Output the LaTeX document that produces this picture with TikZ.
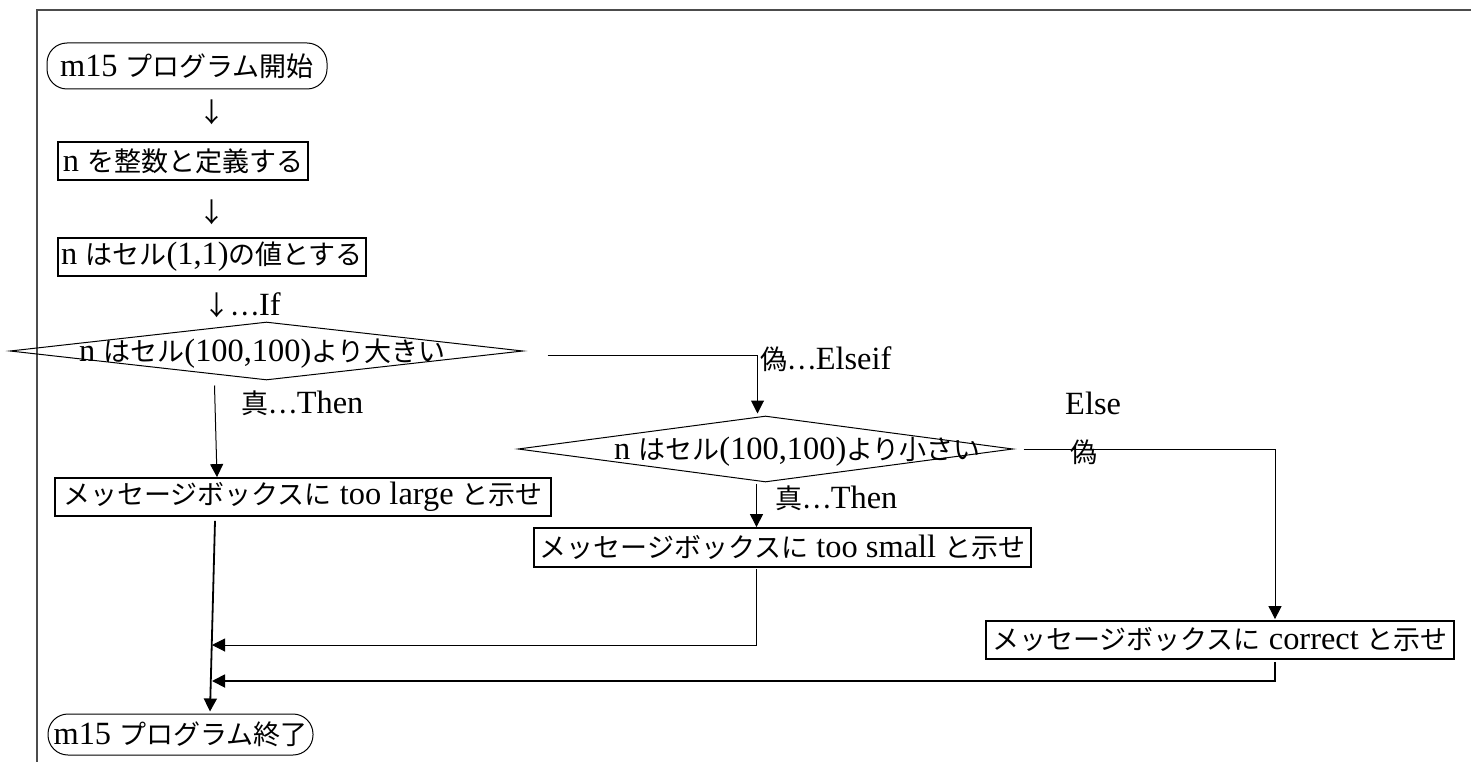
\documentclass[tikz,border=0pt]{standalone}
\usepackage{fontspec}
\setmainfont{Liberation Serif}[Scale=1.2]
\newfontfamily\jpfont{Noto Sans CJK JP}
\usetikzlibrary{arrows.meta, shapes.geometric, calc}
\newcommand{\ja}[1]{{\jpfont #1}}

\begin{document}
\begin{tikzpicture}[
  x=1pt, y=-1pt,
  >={Triangle[length=13pt, width=13pt]},
  every node/.style={font=\fontsize{27}{32}\selectfont, inner sep=0pt},
  procbox/.style={draw, line width=1.8pt, minimum height=38pt},
  terminal/.style={draw, line width=1pt, rounded corners=20pt, minimum height=46pt},
  decision/.style={draw, diamond, line width=1pt, inner sep=0pt},
  arr/.style={->, line width=1pt},
  thickarr/.style={->, line width=1.8pt},
  frame/.style={draw=black!70, line width=1.5pt},
]
\useasboundingbox (0,0) rectangle (1471,762);

% frame
\draw[frame] (37,762) -- (37,10) -- (1471,10);

% main column
\node[terminal, minimum width=280pt] (start) at (187,66) {m15 \ja{プログラム開始}};
\node (down1) at (212,112) {\ja{↓}};
\node[procbox, minimum width=250pt] (define) at (183,161) {n \ja{を整数と定義する}};
\node (down2) at (212,212) {\ja{↓}};
\node[procbox, minimum width=308pt] (cell) at (212,257) {n \ja{はセル}(1,1)\ja{の値とする}};
\node (iflabel) at (242,305) {\ja{↓…}If};

% decisions
\node[decision, minimum width=513pt, minimum height=58pt] (big) at (266.5,351) {};
\node (bigtext) at ($(big.center)+(-4,3)$) {n \ja{はセル}(100,100)\ja{より大きい}};
\node[decision, minimum width=495pt, minimum height=66pt] (small) at (765.5,449) {};
\node (smalltext) at ($(small.center)+(32,3)$) {n \ja{はセル}(100,100)\ja{より小さい}};

% messages
\node[procbox, minimum width=496pt] (large) at (303,497) {\ja{メッセージボックスに} too large \ja{と示せ}};
\node[procbox, minimum width=497pt, minimum height=39pt] (tiny) at (782.5,547.5) {\ja{メッセージボックスに} too small \ja{と示せ}};
\node[procbox, minimum width=468pt] (correct) at (1220,640) {\ja{メッセージボックスに} correct \ja{と示せ}};
\node[terminal, minimum width=265pt, minimum height=41pt] (stop) at (180.5,734.5) {m15 \ja{プログラム終了}};

% branch labels
\node[anchor=west] (then1) at (241,403) {\ja{真…}Then};
\node[anchor=west] (elseif) at (760,359) {\ja{偽…}Elseif};
\node[anchor=west] (else) at (1065,403) {Else};
\node[anchor=west] (false2) at (1070,452) {\ja{偽}};
\node[anchor=west] (then2) at (775,498) {\ja{真…}Then};

% join points
\coordinate (join1) at (212,645);
\coordinate (join2) at (212,681);

% connectors
\draw[arr] ($(big.east)+(24,4)$) -| ($(small.north)+(-8,-2)$);
\draw[arr] ($(big.south)+(-52,5)$) -- ($(large.north)+(-86,0)$);
\draw[arr] ($(small.east)+(10,0)$) -| ($(correct.north)+(55,-1)$);
\draw[arr] ($(small.south)+(-9,1)$) -- ($(tiny.north)+(-26,0)$);
\draw[arr] ($(tiny.south)+(-26,1)$) |- (join1);
\draw[thickarr] ($(correct.south)+(55,2)$) |- (join2);
\draw[thickarr] ($(large.south)+(-88,4)$) -- ($(stop.north)+(29.5,-2)$);

\end{tikzpicture}
\end{document}
